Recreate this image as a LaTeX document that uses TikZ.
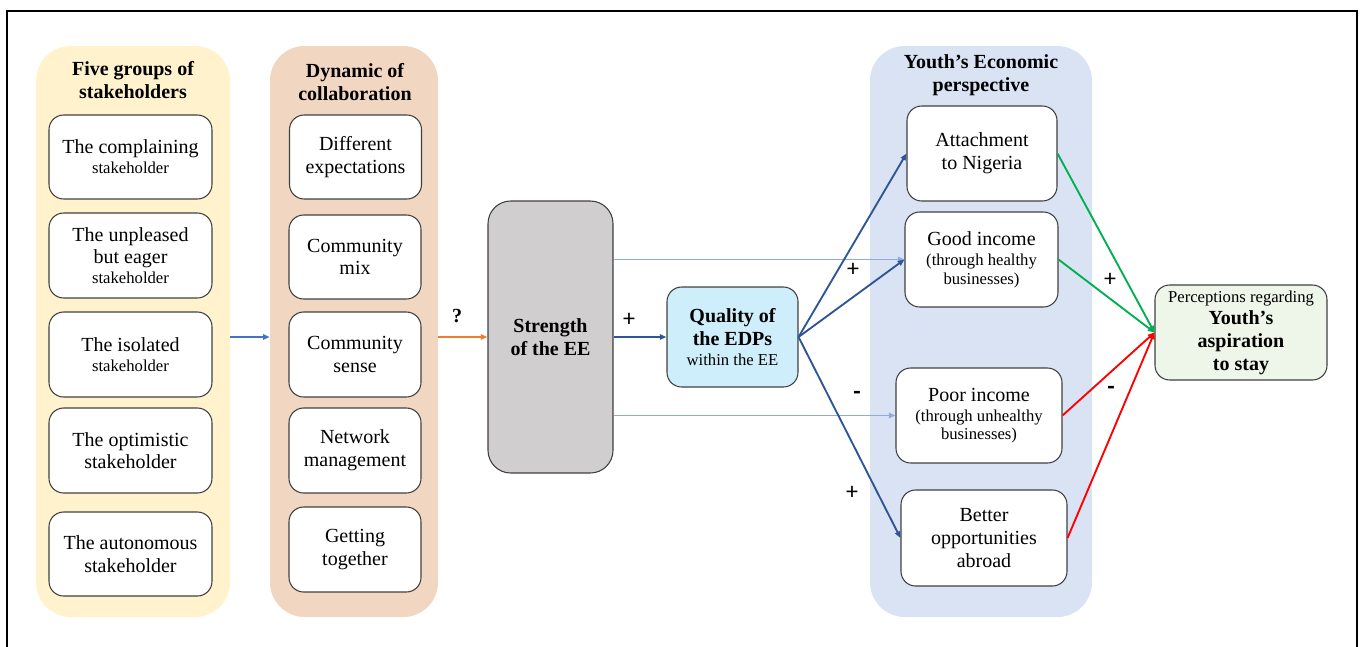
\documentclass[tikz,border=0pt]{standalone}
\usepackage{fontspec}
\setmainfont{Liberation Serif}
\newfontfamily\labfont{Carlito}
\usetikzlibrary{arrows.meta,calc}
\definecolor{cyellow}{RGB}{255,242,204}
\definecolor{cpeach}{RGB}{241,214,193}
\definecolor{cgray}{RGB}{208,206,206}
\definecolor{ccyan}{RGB}{205,238,250}
\definecolor{cyouth}{RGB}{218,227,243}
\definecolor{cgreenbox}{RGB}{238,245,233}
\definecolor{cblue}{RGB}{68,114,196}
\definecolor{corange}{RGB}{237,125,49}
\definecolor{cdblue}{RGB}{47,85,151}
\definecolor{clblue}{RGB}{143,170,220}
\definecolor{cgreen}{RGB}{0,176,80}
\definecolor{cred}{RGB}{255,0,0}
\definecolor{cborder}{RGB}{64,64,64}
\newcommand\bigt{\fontsize{15}{17}\selectfont}
\newcommand\smallt{\fontsize{12.5}{15}\selectfont}
\begin{document}
\begin{tikzpicture}[x=0.75pt,y=-0.75pt,
  wh/.style 2 args={minimum width=#1*0.75pt, minimum height=#2*0.75pt},
  panel/.style={fill=#1, draw=none, rounded corners=26pt, inner sep=0pt},
  box/.style={fill=white, draw=cborder, line width=0.8pt, rounded corners=11pt, align=center, inner sep=2pt, font=\bigt},
  title/.style={align=center, font=\bigt\bfseries, inner sep=0pt},
  lab/.style={font=\labfont\fontsize{18}{18}\selectfont, inner sep=0pt},
  arr/.style={-{Triangle[length=5pt,width=4pt]}, line width=1.4pt}
]
\useasboundingbox (0,0) rectangle (1370,646);
\clip (0,0) rectangle (1370,646);
\draw[line width=1.6pt] (7,11) rectangle (1357,670);

% panels
\node[panel=cyellow, wh={194}{571}] (yp) at (133,331.5) {};
\node[panel=cpeach, wh={168}{571}] (pp) at (354,331.5) {};
\node[panel=cyouth, wh={222}{571}] (youth) at (981,331.5) {};

\node[title] (t1) at (133,80) {Five groups of\\stakeholders};
\node[title] (t2) at (355,82) {Dynamic of\\collaboration};
\node[title] (t3) at (981,75) {Youth’s Economic\\perspective};

% stakeholder boxes
\node[box, wh={163}{84}] (s1) at (130.5,157) {The complaining\\[-2pt]{\smallt stakeholder}};
\node[box, wh={163}{85}] (s2) at (130.5,255.5) {The unpleased\\but eager\\[-2pt]{\smallt stakeholder}};
\node[box, wh={163}{85}] (s3) at (130.5,354.5) {The isolated\\[-2pt]{\smallt stakeholder}};
\node[box, wh={163}{85}] (s4) at (130.5,450.5) {The optimistic\\stakeholder};
\node[box, wh={163}{84}] (s5) at (130.5,554) {The autonomous\\stakeholder};

% collaboration boxes
\node[box, wh={132}{84}] (c1) at (355.5,157) {Different\\expectations};
\node[box, wh={132}{84}] (c2) at (355,257) {Community\\mix};
\node[box, wh={132}{85}] (c3) at (355,354.5) {Community\\sense};
\node[box, wh={132}{85}] (c4) at (355,450.5) {Network\\management};
\node[box, wh={132}{85}] (c5) at (355,549.5) {Getting\\together};

% central boxes
\node[box, fill=cgray, rounded corners=17pt, wh={125}{272}, font=\bigt\bfseries] (se) at (550.5,337) {Strength\\of the EE};
\node[box, fill=ccyan, wh={131}{100}, font=\bigt\bfseries] (q) at (732.5,337) {Quality of\\the EDPs\\[-2pt]{\smallt\mdseries within the EE}};

% youth boxes
\node[box, wh={150}{95}] (att) at (982,153.5) {Attachment\\to Nigeria};
\node[box, wh={153}{95}] (good) at (981.5,259.5) {Good income\\[-2pt]{\smallt (through healthy}\\[-3pt]{\smallt businesses)}};
\node[box, wh={166}{95}] (poor) at (979,415.5) {Poor income\\[-2pt]{\smallt (through unhealthy}\\[-3pt]{\smallt businesses)}};
\node[box, wh={166}{96}] (better) at (984,538) {Better\\opportunities\\abroad};

\node[box, fill=cgreenbox, wh={172}{95}, font=\bigt\bfseries] (per) at (1241,332.5) {{\smallt\mdseries Perceptions regarding}\\Youth’s\\aspiration\\to stay};

% connectors
\draw[arr, cblue, line width=1.3pt] (yp.east |- se.center) -- (pp.west |- se.center);
\draw[arr, corange, line width=1.3pt] (pp.east |- se.center) -- (se.west);
\draw[arr, cdblue, line width=1.8pt] (se.east) -- (q.west);
\draw[arr, clblue, line width=1.4pt] (se.east |- good.west) -- (good.west);
\draw[arr, clblue, line width=1.4pt] (se.east |- poor.west) -- (poor.west);
\draw[arr, cdblue] (q.east) -- (att.west);
\draw[arr, cdblue] (q.east) -- (good.west);
\draw[arr, cdblue] (q.east) -- (better.west);
\draw[arr, cgreen] (att.east) -- (per.west);
\draw[arr, cgreen] (good.east) -- (per.west);
\draw[arr, cred] (poor.east) -- (per.west);
\draw[arr, cred] (better.east) -- (per.west);

% labels
\node[lab, font=\bfseries\bigt] (lq) at (457,316) {?};
\node[lab] (l1) at (629,320) {+};
\node[lab] (l2) at (853,270) {+};
\node[lab] (l3) at (1110,280) {+};
\node[lab, font=\labfont\bfseries\fontsize{18}{18}\selectfont] (l4) at (857,395) {-};
\node[lab, font=\labfont\bfseries\fontsize{18}{18}\selectfont] (l5) at (1111,390) {-};
\node[lab] (l6) at (852,493) {+};
\end{tikzpicture}
\end{document}
